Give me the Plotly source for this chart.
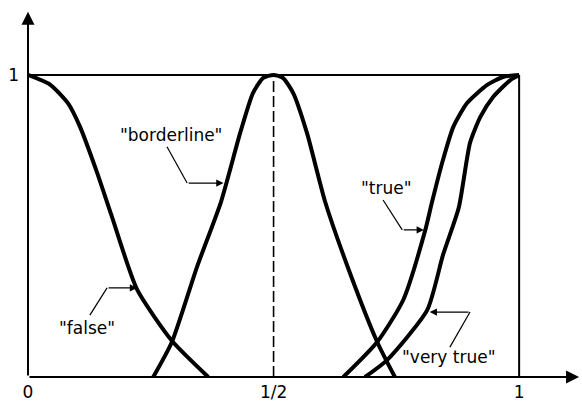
import plotly.graph_objects as go

# ---- data (membership functions) ----
false_x = [0.0, 0.045, 0.082, 0.106, 0.141, 0.171, 0.222, 0.293, 0.367]
false_y = [1.0, 0.968, 0.905, 0.828, 0.675, 0.530, 0.290, 0.120, 0.0]

borderline_x = [0.255, 0.293, 0.344, 0.393, 0.432, 0.458, 0.479, 0.500, 0.519, 0.540, 0.568, 0.605, 0.654, 0.711, 0.747]
borderline_y = [0.0, 0.116, 0.364, 0.580, 0.808, 0.940, 0.990, 1.0, 0.990, 0.940, 0.808, 0.580, 0.351, 0.116, 0.0]

true_x = [0.642, 0.711, 0.764, 0.809, 0.822, 0.845, 0.866, 0.894, 0.935, 0.967, 1.0]
true_y = [0.0, 0.116, 0.255, 0.487, 0.575, 0.719, 0.828, 0.907, 0.967, 0.993, 1.0]

very_true_x = [0.686, 0.731, 0.813, 0.845, 0.877, 0.900, 0.921, 0.947, 0.982, 1.0]
very_true_y = [0.0, 0.056, 0.222, 0.404, 0.560, 0.775, 0.861, 0.927, 0.983, 1.0]

x_tick_vals = [0, 0.5, 1]
x_tick_text = ["0", "1/2", "1"]
y_tick_vals = [1]
y_tick_text = ["1"]

labels = ['"false"', '"borderline"', '"true"', '"very true"']

FONT = "DejaVu Sans"
fig = go.Figure()

for xs, ys, nm in [(false_x, false_y, labels[0]),
                   (borderline_x, borderline_y, labels[1]),
                   (true_x, true_y, labels[2]),
                   (very_true_x, very_true_y, labels[3])]:
    fig.add_trace(go.Scatter(x=xs, y=ys, mode="lines", name=nm,
                             line=dict(color="black", width=4, shape="spline", smoothing=0.6),
                             showlegend=False, hoverinfo="skip"))

# box lines (y = 1 and x = 1) and dashed line at 1/2
fig.add_shape(type="line", x0=0, x1=1, y0=1, y1=1, line=dict(color="black", width=2))
fig.add_shape(type="line", x0=1, x1=1, y0=0, y1=1, line=dict(color="black", width=2))
fig.add_shape(type="line", x0=0.5, x1=0.5, y0=0, y1=1,
              line=dict(color="black", width=1.6, dash="11px,4px"))

# axes with arrows
fig.add_annotation(x=1.122, y=0, ax=0, ay=0, axref="x", ayref="y", xref="x", yref="y",
                   text="", showarrow=True, arrowhead=2, arrowsize=1.3, arrowwidth=2,
                   arrowcolor="black")
fig.add_annotation(x=0, y=1.209, ax=0, ay=0, axref="x", ayref="y", xref="x", yref="y",
                   text="", showarrow=True, arrowhead=2, arrowsize=1.3, arrowwidth=2,
                   arrowcolor="black")

# labels with pointer arrows: (text, text pos, start of pointer, bend, tip)
pointers = [
    (labels[0], (0.120, 0.162), (0.126, 0.205), (0.161, 0.295), (0.222, 0.295)),
    (labels[1], (0.291, 0.801), (0.283, 0.762), (0.324, 0.642), (0.398, 0.642)),
    (labels[2], (0.729, 0.626), (0.723, 0.586), (0.762, 0.487), (0.806, 0.487)),
    (labels[3], (0.857, 0.066), (0.859, 0.099), (0.900, 0.215), (0.818, 0.215)),
]
for txt, tp, p0, p1, tip in pointers:
    fig.add_annotation(x=tp[0], y=tp[1], xref="x", yref="y", text=txt, showarrow=False,
                       font=dict(family=FONT, size=17, color="black"))
    fig.add_trace(go.Scatter(x=[p0[0], p1[0]], y=[p0[1], p1[1]], mode="lines",
                             line=dict(color="black", width=1.2), showlegend=False,
                             hoverinfo="skip"))
    fig.add_annotation(x=tip[0], y=tip[1], ax=p1[0], ay=p1[1], axref="x", ayref="y",
                       xref="x", yref="y", text="", showarrow=True, arrowhead=2,
                       arrowsize=1.2, arrowwidth=1.2, arrowcolor="black")

fig.update_xaxes(range=[0, 1.128], tickvals=x_tick_vals, ticktext=x_tick_text,
                 showgrid=False, zeroline=False, showline=False, ticks="",
                 ticklabelstandoff=3,
                 tickfont=dict(family=FONT, size=17, color="black"), automargin=False)
fig.update_yaxes(range=[0, 1.248], tickvals=y_tick_vals, ticktext=y_tick_text,
                 showgrid=False, zeroline=False, showline=False, ticks="",
                 ticklabelstandoff=8,
                 tickfont=dict(family=FONT, size=17, color="black"), automargin=False)

fig.update_layout(width=582, height=402, margin=dict(l=28, r=0, t=0, b=25),
                  plot_bgcolor="white", paper_bgcolor="white", showlegend=False)

fig.write_html("out.html", config={"displayModeBar": False},
               post_script="document.body.style.margin='0';document.body.style.overflow='hidden';")
